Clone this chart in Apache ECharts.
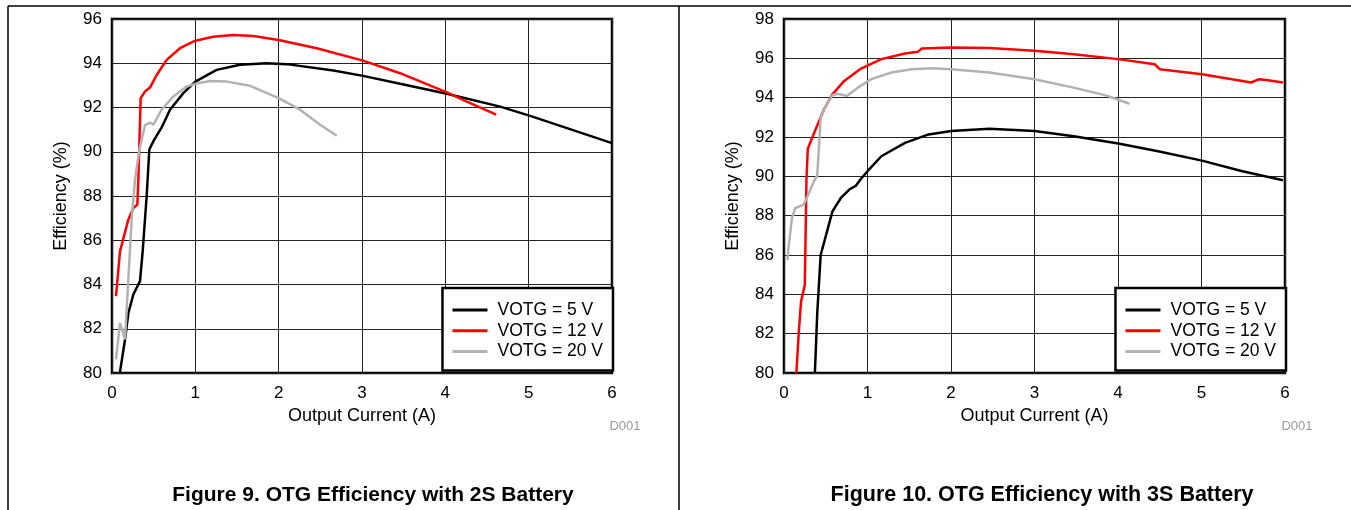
<!DOCTYPE html>
<html><head><meta charset="utf-8">
<script src="https://cdn.jsdelivr.net/npm/echarts@6/dist/echarts.min.js"></script>
<style>html,body{margin:0;padding:0;background:#fff}#c{width:1351px;height:510px}</style>
</head><body><div id="c"></div><script>
// Series names
const seriesNames = ['VOTG = 5 V', 'VOTG = 12 V', 'VOTG = 20 V'];
const xTicks = [0, 1, 2, 3, 4, 5, 6];
const yTicksLeft = [80, 82, 84, 86, 88, 90, 92, 94, 96];
const yTicksRight = [80, 82, 84, 86, 88, 90, 92, 94, 96, 98];
const xTitle = 'Output Current (A)';
const yTitle = 'Efficiency (%)';
const captionLeft = 'Figure 9. OTG Efficiency with 2S Battery';
const captionRight = 'Figure 10. OTG Efficiency with 3S Battery';
const docId = 'D001';

// Figure 9 (2S battery): [output current A, efficiency %]
const left5V = [[0.096,80.05],[0.156,81.5],[0.196,82.7],[0.256,83.55],[0.336,84.15],[0.368,85.5],[0.416,88.0],[0.448,90.1],[0.5,90.5],[0.596,91.1],[0.696,91.9],[0.856,92.65],[1.0,93.17],[1.256,93.7],[1.536,93.93],[1.857,94.0],[2.097,93.96],[2.657,93.67],[3.013,93.43],[3.457,93.07],[4.018,92.62],[4.658,92.04],[5.018,91.62],[5.46,91.07],[6.0,90.39]];
const left12V = [[0.048,83.47],[0.096,85.5],[0.196,86.93],[0.256,87.46],[0.304,87.6],[0.316,88.74],[0.344,92.42],[0.396,92.72],[0.456,92.9],[0.536,93.47],[0.656,94.15],[0.816,94.68],[1.0,95.02],[1.216,95.2],[1.456,95.28],[1.696,95.23],[2.0,95.05],[2.457,94.68],[3.013,94.12],[3.457,93.55],[4.018,92.68],[4.258,92.27],[4.61,91.68]];
const left20V = [[0.048,80.62],[0.096,82.27],[0.156,81.52],[0.196,84.23],[0.236,86.93],[0.276,88.74],[0.328,90.1],[0.396,91.2],[0.456,91.32],[0.496,91.22],[0.596,91.9],[0.736,92.5],[0.896,92.95],[1.0,93.07],[1.176,93.2],[1.377,93.17],[1.657,92.98],[2.0,92.42],[2.257,91.9],[2.497,91.22],[2.697,90.72]];

// Figure 10 (3S battery)
const right5V = [[0.37,80.0],[0.398,83.03],[0.439,86.0],[0.499,86.94],[0.58,88.22],[0.681,88.9],[0.782,89.33],[0.863,89.53],[0.915,89.84],[1.0,90.26],[1.166,91.02],[1.449,91.7],[1.732,92.13],[2.003,92.3],[2.459,92.42],[3.0,92.3],[3.47,92.04],[4.003,91.67],[4.48,91.28],[5.006,90.8],[5.49,90.26],[5.976,89.8]];
const right12V = [[0.148,80.0],[0.176,82.0],[0.204,83.63],[0.249,84.48],[0.269,89.84],[0.285,91.4],[0.378,92.38],[0.479,93.4],[0.58,94.17],[0.721,94.85],[0.923,95.48],[1.166,95.96],[1.449,96.25],[1.602,96.33],[1.651,96.5],[2.003,96.55],[2.459,96.52],[3.0,96.38],[3.47,96.21],[4.003,95.96],[4.44,95.7],[4.5,95.45],[5.006,95.19],[5.49,94.85],[5.592,94.77],[5.693,94.94],[5.774,94.9],[5.976,94.77]];
const right20V = [[0.042,85.75],[0.055,86.43],[0.095,87.88],[0.135,88.39],[0.236,88.56],[0.317,89.33],[0.358,89.75],[0.398,90.03],[0.439,92.98],[0.499,93.57],[0.58,94.12],[0.641,94.2],[0.754,94.09],[0.883,94.51],[1.045,94.94],[1.287,95.28],[1.53,95.45],[1.772,95.5],[2.003,95.45],[2.459,95.28],[3.0,94.94],[3.47,94.51],[3.874,94.09],[4.137,93.69]];

const colors = ['#000000', '#ff0000', '#b2b2b2'];
const FONT = "'Liberation Sans', Arial, sans-serif";

const chart = echarts.init(document.getElementById('c'), null, {renderer: 'canvas'});

function xAxis(gi) {
  return {
    gridIndex: gi, type: 'value', min: xTicks[0], max: xTicks[xTicks.length - 1], interval: 1,
    axisLine: {show: false}, axisTick: {show: false},
    splitLine: {show: true, lineStyle: {color: '#222', width: 1}},
    axisLabel: {color: '#000', fontSize: 17, margin: 12, fontFamily: FONT},
    name: xTitle, nameLocation: 'middle', nameGap: 32,
    nameTextStyle: {color: '#000', fontSize: 18, fontFamily: FONT}
  };
}
function yAxis(gi, ticks) {
  return {
    gridIndex: gi, type: 'value', min: ticks[0], max: ticks[ticks.length - 1], interval: 2,
    axisLine: {show: false}, axisTick: {show: false},
    splitLine: {show: true, lineStyle: {color: '#222', width: 1}},
    axisLabel: {color: '#000', fontSize: 17, margin: 10, fontFamily: FONT},
    name: yTitle, nameLocation: 'middle', nameRotate: 90, nameGap: 42,
    nameTextStyle: {color: '#000', fontSize: 18, fontFamily: FONT}
  };
}
function line(name, data, gi, ci) {
  return {
    type: 'line', name: name, data: data, xAxisIndex: gi, yAxisIndex: gi,
    symbol: 'none', showSymbol: false, smooth: false, animation: false,
    lineStyle: {color: colors[ci], width: 2.5}, itemStyle: {color: colors[ci]}
  };
}
function legend(right) {
  return {
    orient: 'vertical', right: right, top: 288, data: seriesNames,
    selectedMode: false, icon: 'rect', itemWidth: 35, itemHeight: 3, itemGap: 0.7,
    padding: [12, 10, 9, 10],
    borderColor: '#000', borderWidth: 2.5, backgroundColor: '#fff', borderRadius: 0,
    textStyle: {color: '#000', fontSize: 17.5, fontFamily: FONT, lineHeight: 20, padding: [0, 0, 0, 5]}
  };
}

const option = {
  backgroundColor: '#fff',
  animation: false,
  textStyle: {fontFamily: FONT},
  grid: [
    {left: 112, top: 19, width: 500, height: 354, show: true, borderColor: '#000', borderWidth: 2.5, backgroundColor: 'transparent'},
    {left: 784, top: 19, width: 501, height: 354, show: true, borderColor: '#000', borderWidth: 2.5, backgroundColor: 'transparent'}
  ],
  xAxis: [xAxis(0), xAxis(1)],
  yAxis: [yAxis(0, yTicksLeft), yAxis(1, yTicksRight)],
  legend: [legend(738), legend(65)],
  series: [
    line(seriesNames[0], left5V, 0, 0),
    line(seriesNames[1], left12V, 0, 1),
    line(seriesNames[2], left20V, 0, 2),
    line(seriesNames[0], right5V, 1, 0),
    line(seriesNames[1], right12V, 1, 1),
    line(seriesNames[2], right20V, 1, 2)
  ],
  graphic: [
    {type: 'line', shape: {x1: 8, y1: 6, x2: 1351, y2: 6}, style: {stroke: '#000', lineWidth: 1.5}},
    {type: 'line', shape: {x1: 8, y1: 6, x2: 8, y2: 510}, style: {stroke: '#000', lineWidth: 1.5}},
    {type: 'line', shape: {x1: 679, y1: 6, x2: 679, y2: 510}, style: {stroke: '#000', lineWidth: 1.5}},
    {type: 'text', x: 625, y: 426, style: {text: docId, fill: '#999', font: "13px " + FONT, textAlign: 'center', textVerticalAlign: 'middle'}},
    {type: 'text', x: 1297, y: 426, style: {text: docId, fill: '#999', font: "13px " + FONT, textAlign: 'center', textVerticalAlign: 'middle'}},
    {type: 'text', x: 373, y: 495, style: {text: captionLeft, fill: '#000', font: "bold 21px " + FONT, textAlign: 'center', textVerticalAlign: 'middle'}},
    {type: 'text', x: 1042, y: 495, style: {text: captionRight, fill: '#000', font: "bold 21.5px " + FONT, textAlign: 'center', textVerticalAlign: 'middle'}}
  ]
};
chart.setOption(option);
</script></body></html>
